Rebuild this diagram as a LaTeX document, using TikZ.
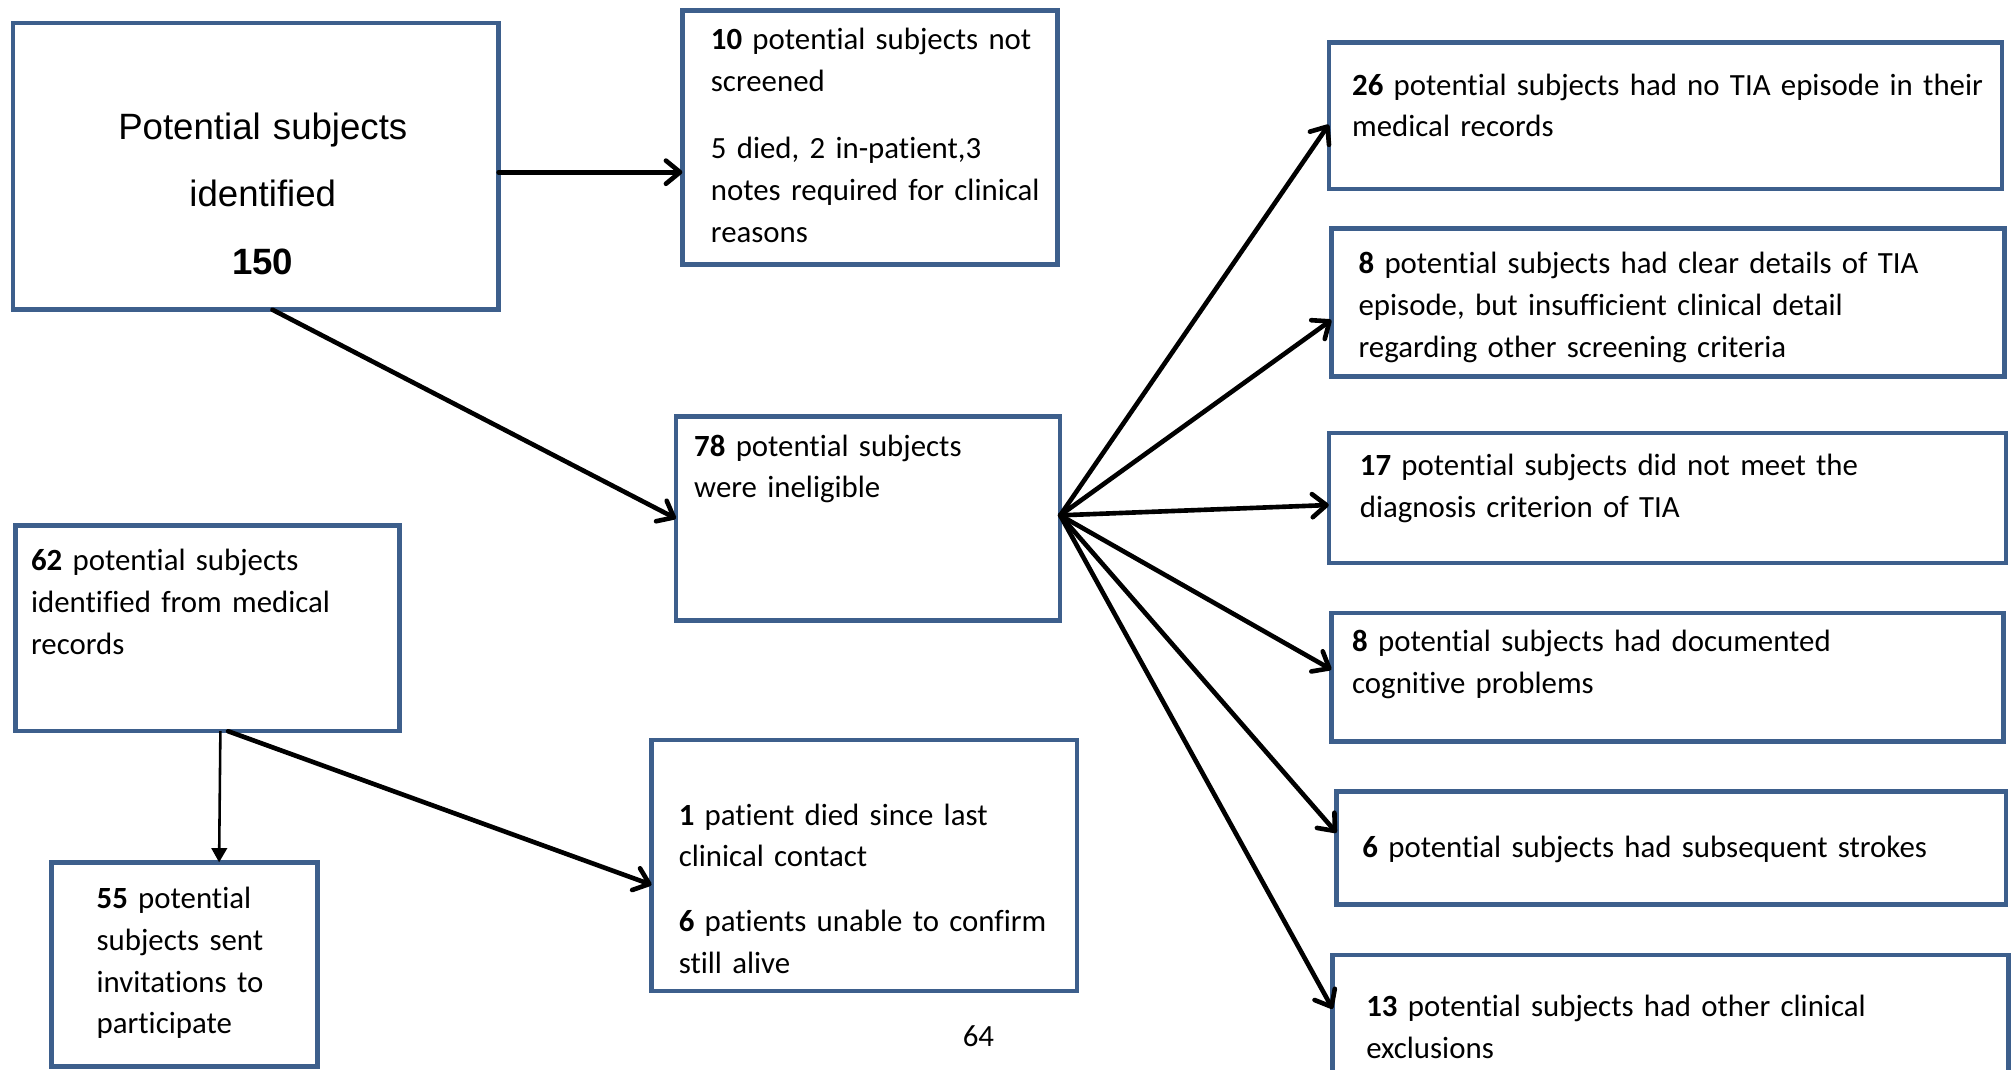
\documentclass[tikz,border=0pt]{standalone}
\usepackage{fontspec}
\setmainfont{Carlito}[Ligatures={NoCommon,NoContextual}]
\newfontfamily\arialfont{Liberation Sans}
\usetikzlibrary{arrows.meta}
\definecolor{boxblue}{RGB}{61,95,140}
\begin{document}
\begin{tikzpicture}[x=1pt,y=-1pt,
  box/.style={draw=boxblue, line width=3.5pt, fill=white, inner sep=0pt, outer sep=0pt},
  txt/.style={anchor=base west, inner sep=0pt, align=left, text width=560pt,
              font=\fontsize{24}{32.5}\selectfont},
  flow/.style={draw=black, line width=3.6pt, line cap=round,
               -{Straight Barb[length=11pt,width=18pt,round]}},
  thinflow/.style={draw=black, line width=2pt, -{Triangle[length=11pt,width=12pt]}}
]
\useasboundingbox (0,0) rectangle (1568,832);
\clip (0,0) rectangle (1568,832);

% boxes
\node[box, minimum width=378pt, minimum height=223pt] (b1)  at (199,129.5) {};
\node[box, minimum width=292pt, minimum height=198pt] (b2)  at (677,107) {};
\node[box, minimum width=524pt, minimum height=114pt] (b3)  at (1296,90) {};
\node[box, minimum width=524pt, minimum height=115pt] (b4)  at (1298,235.5) {};
\node[box, minimum width=299pt, minimum height=159pt] (b5)  at (675.5,403.5) {};
\node[box, minimum width=527pt, minimum height=101pt] (b6)  at (1297.5,387.5) {};
\node[box, minimum width=299pt, minimum height=160pt] (b7)  at (161.5,489) {};
\node[box, minimum width=523pt, minimum height=100pt] (b8)  at (1297.5,527) {};
\node[box, minimum width=331pt, minimum height=195pt] (b9)  at (672.5,673.5) {};
\node[box, minimum width=521pt, minimum height=88pt]  (b10) at (1300.5,660) {};
\node[box, minimum width=207pt, minimum height=159pt] (b11) at (143.5,750.5) {};
\node[box, minimum width=526pt, minimum height=117pt] (b12) at (1300,801.5) {};

% texts
\node[anchor=base, inner sep=0pt, align=center, text width=400pt,
      font=\arialfont\fontsize{28.5}{52.5}\selectfont] (t1) at (204.5,108.5)
  {Potential subjects\\identified\\\textbf{150}};
\node[txt] (t2) at (553,38.5)
  {\textbf{10} potential subjects not\\screened\\[20pt]5 died, 2 in-patient,3\\notes required for clinical\\reasons};
\node[txt] (t3) at (1052,74)
  {\textbf{26} potential subjects had no TIA episode in their\\medical records};
\node[txt] (t4) at (1057,213)
  {\textbf{8} potential subjects had clear details of TIA\\episode, but insufficient clinical detail\\regarding other screening criteria};
\node[txt] (t5) at (540,355)
  {\textbf{78} potential subjects\\were ineligible};
\node[txt] (t6) at (1058,370)
  {\textbf{17} potential subjects did not meet the\\diagnosis criterion of TIA};
\node[txt] (t7) at (24,444)
  {\textbf{62} potential subjects\\identified from medical\\records};
\node[txt] (t8) at (1052,507)
  {\textbf{8} potential subjects had documented\\cognitive problems};
\node[txt] (t9) at (528,642)
  {\textbf{1} patient died since last\\clinical contact\\[18pt]\textbf{6} patients unable to confirm\\still alive};
\node[txt] (t10) at (1060,667)
  {\textbf{6} potential subjects had subsequent strokes};
\node[txt] (t11) at (75,707)
  {\textbf{55} potential\\subjects sent\\invitations to\\participate};
\node[txt] (t12) at (1063,791)
  {\textbf{13} potential subjects had other clinical\\exclusions};
\node[anchor=base west, inner sep=0pt, font=\fontsize{24}{28}\selectfont] (pg) at (749,814) {64};

% connectors
\draw[flow] ([yshift=-4.5pt]b1.east) -- ([yshift=-27pt]b2.west);
\draw[flow] ([xshift=13pt]b1.south) -- (b5.west);
\draw[flow] ([yshift=2.5pt]b5.east) -- ([yshift=-7pt]b3.west);
\draw[flow] ([yshift=2.5pt]b5.east) -- ([yshift=-13.5pt]b4.west);
\draw[flow] ([yshift=2.5pt]b5.east) -- ([yshift=-5.5pt]b6.west);
\draw[flow] ([yshift=2.5pt]b5.east) -- ([yshift=6pt]b8.west);
\draw[flow] ([yshift=2.5pt]b5.east) -- ([yshift=12pt]b10.west);
\draw[flow] ([yshift=2.5pt]b5.east) -- ([yshift=16.5pt]b12.west);
\draw[thinflow] ([xshift=10pt]b7.south) -- ([xshift=27pt]b11.north);
\draw[flow] ([xshift=16pt]b7.south) -- ([yshift=-15pt]b9.west);
\end{tikzpicture}
\end{document}
